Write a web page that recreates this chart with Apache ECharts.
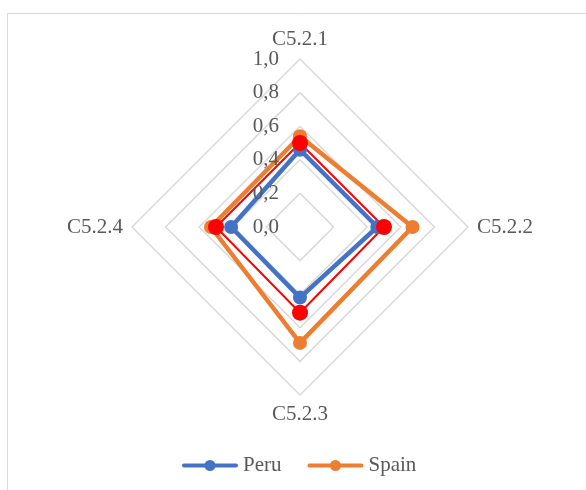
<!DOCTYPE html>
<html>
<head>
<meta charset="utf-8">
<script src="https://cdn.jsdelivr.net/npm/echarts@6/dist/echarts.min.js"></script>
<style>
  html, body { margin: 0; padding: 0; background: #fff; }
  #chart { width: 586px; height: 490px; }
</style>
</head>
<body>
<div id="chart"></div>
<script>
// categories, clockwise from the top
const categories = ["C5.2.1", "C5.2.2", "C5.2.3", "C5.2.4"];
const peru = [0.46, 0.46, 0.42, 0.41];
const spain = [0.54, 0.67, 0.69, 0.53];
const reference = [0.50, 0.50, 0.51, 0.50];
const ticks = [0, 0.2, 0.4, 0.6, 0.8, 1.0];

const serif = "'Liberation Serif', 'DejaVu Serif', serif";
const grey = "#595959";

// echarts radar runs counterclockwise, so reorder to keep Excel's clockwise layout
const order = [0, 3, 2, 1];
const pick = arr => order.map(i => arr[i]);

// legend icon: thick line with a dot in the middle, like Excel's
const lineDot = "path://M2,4L54,4A2,2 0 0 1 54,8L2,8A2,2 0 0 1 2,4Z" +
  "M28,0.5A5.5,5.5 0 1 1 28,11.5A5.5,5.5 0 1 1 28,0.5Z";

const chart = echarts.init(document.getElementById("chart"));

const options = {
  animation: false,
  graphic: [
    {
      type: "rect",
      shape: { x: 7.5, y: 13.5, width: 620, height: 520 },
      style: { fill: "none", stroke: "#D9D9D9", lineWidth: 1 },
      silent: true
    }
  ],
  legend: {
    data: [
      { name: "Peru", icon: lineDot },
      { name: "Spain", icon: lineDot }
    ],
    left: 177,
    top: 450,
    itemWidth: 56,
    itemHeight: 12,
    itemGap: 26,
    textStyle: { fontFamily: serif, fontSize: 21, color: grey }
  },
  radar: {
    center: [300, 227],
    radius: 168,
    shape: "polygon",
    splitNumber: 5,
    nameGap: 9,
    indicator: pick(categories).map(name => ({ name: name, min: 0, max: 1 })),
    axisName: { color: grey, fontFamily: serif, fontSize: 21 },
    axisLine: { show: false },
    axisTick: { show: false },
    axisLabel: { show: false },
    splitArea: { show: false },
    splitLine: { lineStyle: { color: "#D9D9D9", width: 1.5 } }
  },
  grid: { left: 300, width: 1, top: 59, height: 168 },
  xAxis: { type: "value", show: false },
  yAxis: {
    type: "value",
    z: 5,
    min: ticks[0],
    max: ticks[ticks.length - 1],
    interval: 0.2,
    axisLine: { show: false },
    axisTick: { show: false },
    splitLine: { show: false },
    axisLabel: {
      margin: 21,
      padding: [6, 0, 0, 0],
      color: grey,
      fontFamily: serif,
      fontSize: 21,
      formatter: v => v.toFixed(1).replace(".", ",")
    }
  },
  series: [
    {
      type: "radar",
      z: 2,
      data: [
        {
          name: "Peru",
          value: pick(peru),
          symbol: "circle",
          symbolSize: 14,
          lineStyle: { color: "#4472C4", width: 4.5 },
          itemStyle: { color: "#4472C4" }
        },
        {
          name: "Spain",
          value: pick(spain),
          symbol: "circle",
          symbolSize: 14,
          lineStyle: { color: "#ED7D31", width: 4.5 },
          itemStyle: { color: "#ED7D31" }
        },
        {
          name: "Reference",
          value: pick(reference),
          symbol: "circle",
          symbolSize: 16,
          lineStyle: { color: "#FF0000", width: 2 },
          itemStyle: { color: "#FF0000" }
        }
      ]
    }
  ]
};

chart.setOption(options);
</script>
</body>
</html>
